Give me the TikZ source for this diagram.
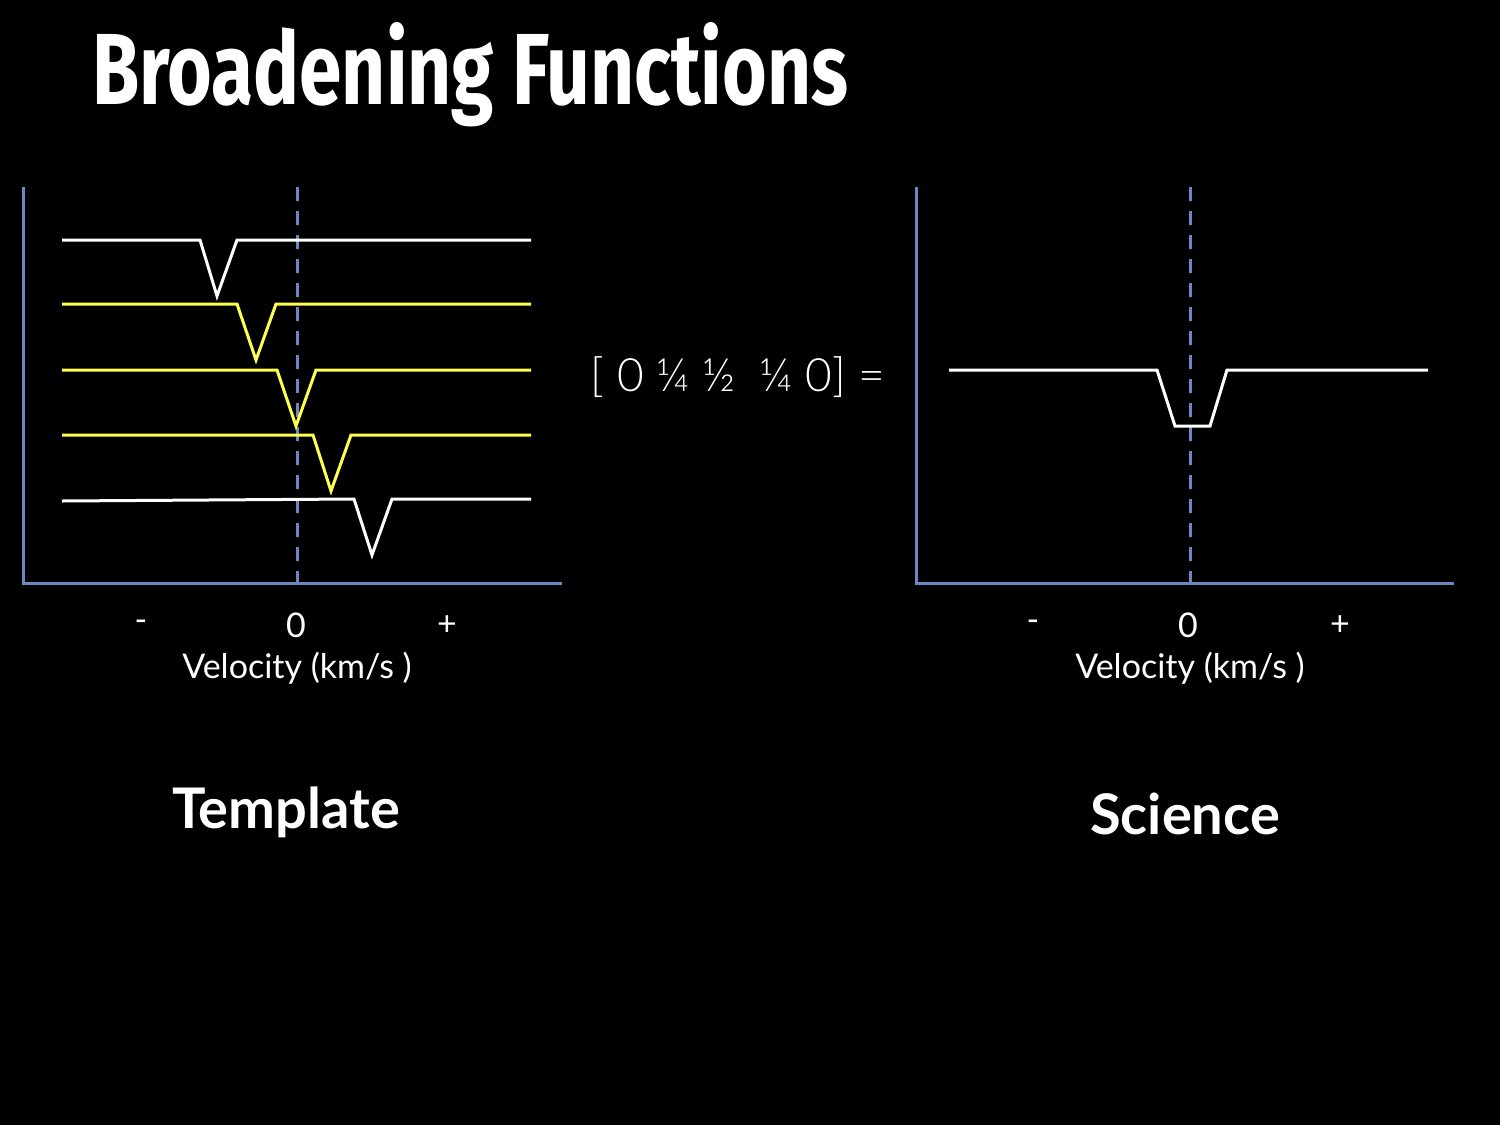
\documentclass[tikz,border=0pt]{standalone}
\usepackage{fontspec}
\setmainfont{Lato}
\newfontfamily\titlefont{Fira Sans}
\newfontfamily\thinfont{Lato Light}
\begin{document}
\begin{tikzpicture}[x=1pt,y=-1pt,
  ax/.style={draw=axc,line width=3pt},
  dsh/.style={draw=axc,line width=3pt,dash pattern=on 14pt off 10pt},
  sp/.style={line width=3pt,line join=miter},
  lab/.style={text=white,font=\fontsize{34}{34}\selectfont},
  big/.style={text=white,font=\fontsize{56}{56}\selectfont\bfseries}]
\definecolor{axc}{HTML}{6B88C0}
\definecolor{yl}{HTML}{FFFF4D}
\fill[black] (0,0) rectangle (1500,1125);
\useasboundingbox (0,0) rectangle (1500,1125);
\node[anchor=west,text=white,inner sep=0] (title) at (92,75) {\resizebox{756pt}{82pt}{\titlefont\bfseries Broadening Functions}};
% left
\draw[ax] (23,187) -- (23,583) -- (562,583);
\draw[dsh] (297,187) -- (297,583);
\draw[sp,white] (62,240) -- (200,240) -- (217,296) -- (237,240) -- (531,240);
\draw[sp,yl] (62,304) -- (237,304) -- (256,360) -- (276,304) -- (531,304);
\draw[sp,yl] (62,370) -- (277,370) -- (296,426) -- (316,370) -- (531,370);
\draw[sp,yl] (62,435) -- (313,435) -- (331,491) -- (351,435) -- (531,435);
\draw[sp,white] (62,501) -- (354,499) -- (372,555) -- (392,499) -- (531,499);
\node[lab] (lm) at (141,626) {-};
\node[lab] (l0) at (296,625) {0};
\node[lab] (lp) at (447,626) {+};
\node[lab] (lv) at (297,668) {Velocity (km/s )};
\node[big] (tmp) at (286,812) {Template};
% equation
\node[text=white,font=\fontsize{46}{46}\selectfont\thinfont] (eq) at (738,377) {[ 0 ¼ ½ \ ¼ 0] =};
% right
\draw[ax] (916,187) -- (916,583) -- (1454,583);
\draw[dsh] (1190,187) -- (1190,583);
\draw[sp,white] (949,370) -- (1157,370) -- (1175,426) -- (1210,426) -- (1227,370) -- (1428,370);
\node[lab] (rm) at (1033,626) {-};
\node[lab] (r0) at (1188,625) {0};
\node[lab] (rp) at (1340,626) {+};
\node[lab] (rv) at (1190,668) {Velocity (km/s )};
\node[big] (sci) at (1185,814) {Science};
\end{tikzpicture}
\end{document}
